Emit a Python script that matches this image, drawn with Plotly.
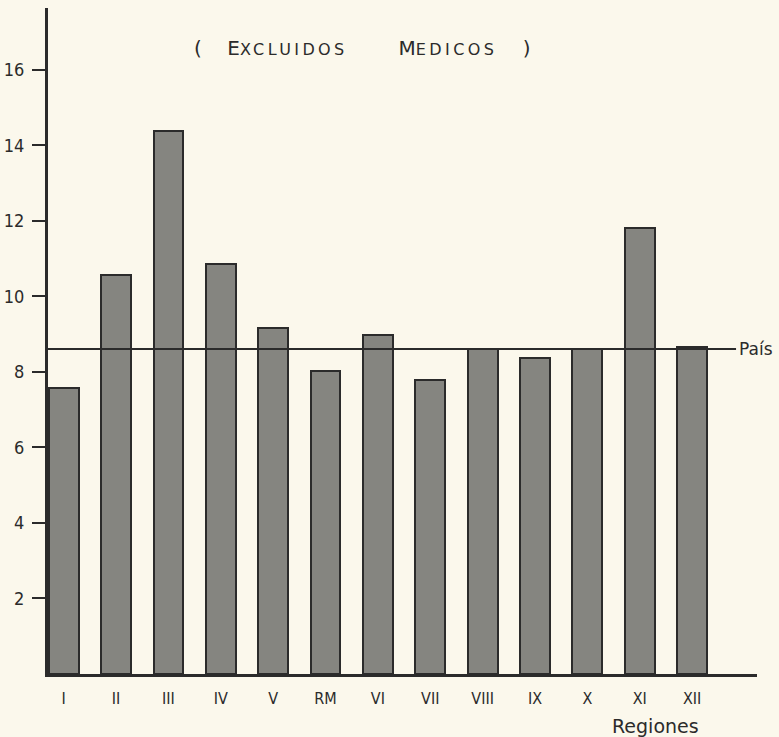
import plotly.graph_objects as go

regiones = ["I", "II", "III", "IV", "V", "RM", "VI", "VII", "VIII", "IX", "X", "XI", "XII"]
valores = [7.58, 10.57, 14.38, 10.86, 9.17, 8.03, 8.98, 7.79, 8.61, 8.37, 8.61, 11.81, 8.66]
pais = 8.61
y_ticks = [2, 4, 6, 8, 10, 12, 14, 16]

ink = "#2b2b2b"
bg = "#fbf8ec"
font_family = "DejaVu Sans, Liberation Sans, sans-serif"
cond_family = "DejaVu Sans Condensed, DejaVu Sans, sans-serif"

xpos = list(range(len(regiones)))

fig = go.Figure()
fig.add_trace(go.Bar(
    x=xpos, y=valores, width=0.57,
    marker=dict(color="#858580", line=dict(color=ink, width=2)),
    hoverinfo="skip",
))

fig.add_shape(type="line", xref="x", yref="y", x0=-0.3, x1=12.84, y0=pais, y1=pais,
              line=dict(color=ink, width=2), layer="above")
fig.add_annotation(x=12.86, y=pais, xref="x", yref="y", text="País", showarrow=False,
                   xanchor="left", yanchor="middle", font=dict(size=17, color=ink, family=font_family))

sc = "font-size:16px;letter-spacing:3.4px"
nb = "&nbsp;"
fig.add_annotation(
    x=(362 - 48) / 709, xref="paper", y=1 - (48 - 8) / 666, yref="paper",
    text=("(" + nb * 4 + "E<span style='%s'>XCLUIDOS</span>" + nb * 8 +
          "M<span style='%s'>EDICOS</span>" + nb * 4 + ")") % (sc, sc),
    showarrow=False, xanchor="center", yanchor="middle",
    font=dict(size=20, color=ink, family=font_family),
)

fig.add_annotation(
    x=(655 - 48) / 709, xref="paper", y=-(726 - 674) / 666, yref="paper",
    text="Regiones", showarrow=False, xanchor="center", yanchor="middle",
    font=dict(size=19, color=ink, family=font_family),
)

fig.update_layout(
    width=779, height=737,
    margin=dict(l=48, r=22, t=8, b=63),
    paper_bgcolor=bg, plot_bgcolor=bg,
    showlegend=False,
    bargap=0,
    xaxis=dict(
        range=[-0.3, 13.24],
        tickmode="array", tickvals=xpos, ticktext=regiones,
        showline=True, linecolor=ink, linewidth=3,
        showgrid=False, zeroline=False, ticks="",
        tickfont=dict(size=16, color=ink, family=cond_family),
        ticklabelstandoff=8, automargin=False,
    ),
    yaxis=dict(
        range=[0, 17.64],
        tickmode="array", tickvals=y_ticks,
        showline=True, linecolor=ink, linewidth=3,
        showgrid=False, zeroline=False,
        ticks="outside", ticklen=13, tickwidth=2, tickcolor=ink,
        tickfont=dict(size=18, color=ink, family=cond_family),
        ticklabelstandoff=4, automargin=False,
    ),
)

fig.write_html(
    "out.html",
    config={"displayModeBar": False},
    post_script="document.body.style.margin='0';document.body.style.background='%s';" % bg,
)
